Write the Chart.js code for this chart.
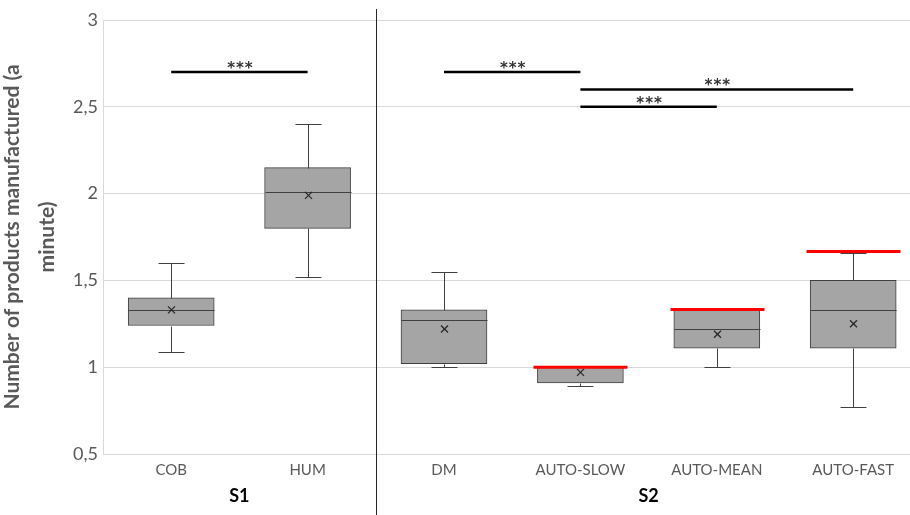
<!DOCTYPE html>
<html><head><meta charset="utf-8">
<script src="https://cdn.jsdelivr.net/npm/chart.js@4/dist/chart.umd.min.js"></script>
<style>html,body{margin:0;padding:0;background:#fff;}#wrap{width:910px;height:515px;position:relative;}</style>
</head><body><div id="wrap"><canvas id="c"></canvas></div>
<script>
const categories = ['COB','HUM','DM','AUTO-SLOW','AUTO-MEAN','AUTO-FAST'];
const whiskerMin = [1.09, 1.52, 1.00, 0.89, 1.00, 0.77];
const q1 =         [1.24, 1.80, 1.02, 0.91, 1.11, 1.11];
const median =     [1.33, 2.01, 1.27, 1.00, 1.22, 1.33];
const q3 =         [1.40, 2.15, 1.33, 1.00, 1.33, 1.50];
const whiskerMax = [1.60, 2.40, 1.55, 1.00, 1.33, 1.66];
const mean =       [1.33, 1.99, 1.22, 0.97, 1.19, 1.25];
const targetRate = [null, null, null, 1.00, 1.333, 1.667];
const yTicks = [0.5, 1, 1.5, 2, 2.5, 3];
const groupLabels = ['S1', 'S2'];
const groupFirst = [0, 2];
const groupLast = [1, 5];
const sigFrom = [0, 2, 3, 3];
const sigTo = [1, 3, 5, 4];
const sigLevel = [2.7, 2.7, 2.6, 2.5];
const sigText = ['***', '***', '***', '***'];
const yTitle = ['Number of products manufactured (a', 'minute)'];

const FONT = 'Lato, "Liberation Sans", sans-serif';

function seg(ctx, x1, y1, x2, y2){ ctx.beginPath(); ctx.moveTo(x1,y1); ctx.lineTo(x2,y2); ctx.stroke(); }
const crisp = v => Math.round(v) + 0.5;

const boxPlugin = {
  id: 'boxExtras',
  afterDatasetsDraw(chart){
    const {ctx, scales:{x, y}} = chart;
    ctx.save();
    categories.forEach((c, i) => {
      const cx = crisp(x.getPixelForValue(i));
      ctx.strokeStyle = '#404040'; ctx.lineWidth = 1;
      const yq3 = crisp(y.getPixelForValue(q3[i])), yq1 = crisp(y.getPixelForValue(q1[i]));
      const yMax = crisp(y.getPixelForValue(whiskerMax[i])), yMin = crisp(y.getPixelForValue(whiskerMin[i]));
      if (yMax < yq3) { seg(ctx, cx, yq3, cx, yMax); seg(ctx, cx-13, yMax, cx+13, yMax); }
      if (yMin > yq1) { seg(ctx, cx, yq1, cx, yMin); seg(ctx, cx-13, yMin, cx+13, yMin); }
      const ym = crisp(y.getPixelForValue(median[i]));
      seg(ctx, cx-43, ym, cx+43, ym);
      const ya = y.getPixelForValue(mean[i]);
      ctx.strokeStyle = '#262626'; ctx.lineWidth = 1.3;
      seg(ctx, cx-3.5, ya-3.5, cx+3.5, ya+3.5);
      seg(ctx, cx-3.5, ya+3.5, cx+3.5, ya-3.5);
      if (targetRate[i] !== null) {
        const yr = y.getPixelForValue(targetRate[i]);
        ctx.strokeStyle = '#ff0000'; ctx.lineWidth = 3;
        seg(ctx, cx-47, yr, cx+47, yr);
      }
    });
    // significance bars
    sigFrom.forEach((f, k) => {
      const x1 = x.getPixelForValue(f), x2 = x.getPixelForValue(sigTo[k]);
      const yy = y.getPixelForValue(sigLevel[k]);
      ctx.strokeStyle = '#000'; ctx.lineWidth = 2.5;
      seg(ctx, x1, yy, x2, yy);
      ctx.fillStyle = '#333';
      ctx.font = 'bold 15px "DejaVu Sans", sans-serif';
      try { ctx.letterSpacing = '1px'; } catch(e) {}
      ctx.textAlign = 'center'; ctx.textBaseline = 'alphabetic';
      ctx.fillText(sigText[k], (x1+x2)/2 + 1, yy + 1);
      try { ctx.letterSpacing = '0px'; } catch(e) {}
    });
    ctx.restore();
  },
  afterDraw(chart){
    const {ctx, scales:{x}} = chart;
    ctx.save();
    // separator between groups
    const sx = crisp(x.getPixelForValue((groupLast[0] + groupFirst[1]) / 2));
    ctx.strokeStyle = '#262626'; ctx.lineWidth = 1;
    seg(ctx, sx, 9, sx, 515);
    ctx.fillStyle = '#000';
    ctx.font = 'bold 18px ' + FONT;
    ctx.textAlign = 'center'; ctx.textBaseline = 'middle';
    groupLabels.forEach((g, k) => {
      const gx = (x.getPixelForValue(groupFirst[k]) + x.getPixelForValue(groupLast[k])) / 2;
      ctx.fillText(g, gx, 496);
    });
    ctx.restore();
  }
};

new Chart(document.getElementById('c'), {
  type: 'bar',
  data: {
    datasets: [{
      data: categories.map((c, i) => ({x: i, y: [q1[i], q3[i]]})),
      backgroundColor: '#a5a5a5',
      borderColor: '#404040',
      borderWidth: 1,
      borderSkipped: false,
      barThickness: 86
    }]
  },
  options: {
    responsive: true, maintainAspectRatio: false, animation: false,
    layout: {padding: {left: 0, right: 0, top: 20, bottom: 0}},
    plugins: {legend: {display: false}, tooltip: {enabled: false}},
    scales: {
      x: {
        type: 'linear', offset: false, min: -0.5, max: -0.5 + 807/136.4,
        afterBuildTicks: s => { s.ticks = categories.map((c, i) => ({value: i})); },
        ticks: {callback: v => categories[v], color: '#595959', font: {family: FONT, size: 15}, padding: 7, maxRotation: 0, autoSkip: false},
        grid: {display: false, offset: false, drawTicks: false},
        border: {display: false},
        afterFit: s => { s.height = 61; }
      },
      y: {
        min: 0.5, max: 3,
        afterBuildTicks: s => { s.ticks = yTicks.map(v => ({value: v})); },
        ticks: {callback: v => String(v).replace('.', ','), color: '#595959', font: {family: FONT, size: 18}, padding: 5},
        grid: {color: '#d9d9d9', drawTicks: false},
        border: {color: '#d9d9d9'},
        title: {display: true, text: yTitle, color: '#595959', font: {family: FONT, size: 21, weight: 'bold', lineHeight: '35px'}, padding: {top: -5, bottom: 0}},
        afterFit: s => { s.width = 103; }
      }
    }
  },
  plugins: [boxPlugin]
});
</script>
</body></html>
